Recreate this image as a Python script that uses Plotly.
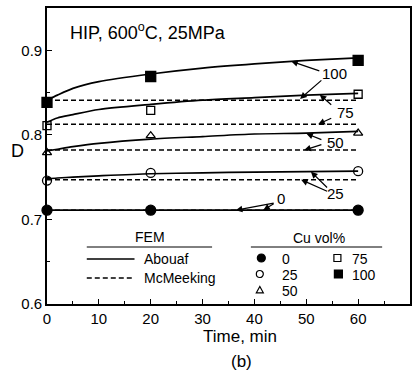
import plotly.graph_objects as go

# ---------------- data ----------------
cu_labels = ["0", "25", "50", "75", "100"]

# FEM, Abouaf model (solid curves)
curve_time = [0, 2, 5, 10, 20, 30, 40, 50, 60]
abouaf_0 = [0.711, 0.711, 0.711, 0.711, 0.711, 0.711, 0.711, 0.711, 0.711]
abouaf_25 = [0.748, 0.749, 0.750, 0.7515, 0.754, 0.755, 0.756, 0.7565, 0.757]
abouaf_50 = [0.781, 0.783, 0.786, 0.790, 0.795, 0.798, 0.801, 0.802, 0.804]
abouaf_75 = [0.815, 0.820, 0.824, 0.830, 0.836, 0.841, 0.844, 0.847, 0.849]
abouaf_100 = [0.841, 0.847, 0.855, 0.863, 0.872, 0.879, 0.884, 0.888, 0.891]

# FEM, McMeeking model (dashed, constant)
mcm_time = [0, 60]
mcmeeking_0 = [0.711, 0.711]
mcmeeking_25 = [0.747, 0.747]
mcmeeking_50 = [0.782, 0.782]
mcmeeking_75 = [0.8125, 0.8125]
mcmeeking_100 = [0.841, 0.841]

# experiments
exp_time = [0, 20, 60]
exp_0 = [0.711, 0.711, 0.711]
exp_25 = [0.746, 0.755, 0.757]
exp_50 = [0.779, 0.799, 0.802]
exp_75 = [0.811, 0.829, 0.848]
exp_100 = [0.8385, 0.869, 0.888]

x_ticks = [0, 10, 20, 30, 40, 50, 60, 70]
y_ticks = [0.6, 0.7, 0.8, 0.9]
y_ticktext = ["0.6", "0.7", "0.8", "0.9"]

FONT = "Liberation Sans, Arial, Helvetica, sans-serif"

abouaf = [abouaf_0, abouaf_25, abouaf_50, abouaf_75, abouaf_100]
mcmeeking = [mcmeeking_0, mcmeeking_25, mcmeeking_50, mcmeeking_75, mcmeeking_100]
exps = [exp_0, exp_25, exp_50, exp_75, exp_100]
symbols = ["circle", "circle-open", "triangle-up-open", "square-open", "square"]
msizes = [10, 9, 8, 8, 10]

fig = go.Figure()

for lab, ys in zip(cu_labels, mcmeeking):
    fig.add_trace(go.Scatter(x=mcm_time, y=ys, mode="lines", name="McMeeking " + lab,
                             line=dict(color="black", width=1.5, dash="5px,3px"),
                             showlegend=False, hoverinfo="skip"))
for lab, ys in zip(cu_labels, abouaf):
    fig.add_trace(go.Scatter(x=curve_time, y=ys, mode="lines", name="Abouaf " + lab,
                             line=dict(color="black", width=1.7, shape="spline", smoothing=0.8),
                             showlegend=False, hoverinfo="skip"))
for lab, ys, sym, ms in zip(cu_labels, exps, symbols, msizes):
    fig.add_trace(go.Scatter(x=exp_time, y=ys, mode="markers", name=lab,
                             marker=dict(symbol=sym, size=ms, color="black",
                                         line=dict(color="black", width=1.3)),
                             cliponaxis=False, showlegend=False))

# ---------------- layout helpers ----------------
L, R, T, B = 47, 412, 8, 304
def PX(px):
    return (px - L) / (R - L)
def PY(py):
    return (B - py) / (B - T)

ann = []
shapes = []

def text(px, py, s, size=14, xanchor="center"):
    ann.append(dict(x=PX(px), y=PY(py), xref="paper", yref="paper", text=s,
                    showarrow=False, xanchor=xanchor, yanchor="middle",
                    font=dict(family=FONT, size=size, color="black")))

# title and axis labels
text(68, 32, "HIP, 600<sup>o</sup>C, 25MPa", size=18, xanchor="left")
text(17, 151, "D", size=18)
text(241, 336, "Time, min", size=17)
text(243, 361, "(b)", size=17)

# arrow labels and arrows (data coordinates)
arrow_labels = [
    ("100", 55.5, 0.873, [((52.8, 0.875), (47.1, 0.887)), ((53.2, 0.866), (48.8, 0.8425))]),
    ("75", 57.6, 0.827, [((55.1, 0.834), (52.6, 0.8475)), ((55.1, 0.8205), (52.3, 0.8125))]),
    ("50", 55.7, 0.791, [((53.2, 0.7937), (50.0, 0.8015)), ((53.2, 0.789), (49.6, 0.782))]),
    ("25", 55.7, 0.731, [((54.3, 0.736), (50.9, 0.7565)), ((54.3, 0.7325), (49.0, 0.747))]),
    ("0", 45.2, 0.725, [((44.0, 0.7195), (36.4, 0.711)), ((44.0, 0.7195), (41.7, 0.711))]),
]
for lab, lx, ly, arrows in arrow_labels:
    ann.append(dict(x=lx, y=ly, xref="x", yref="y", text=lab, showarrow=False,
                    font=dict(family=FONT, size=15, color="black")))
    for (tx, ty), (hx, hy) in arrows:
        ann.append(dict(x=hx, y=hy, xref="x", yref="y", ax=tx, ay=ty,
                        axref="x", ayref="y", text="", showarrow=True,
                        arrowhead=2, arrowsize=1.1, arrowwidth=1.2,
                        arrowcolor="black", standoff=0, startstandoff=0))

# ---------------- custom legend ----------------
def hline(x0, x1, py, dash=None, width=1.3):
    shapes.append(dict(type="line", xref="paper", yref="paper",
                       x0=PX(x0), x1=PX(x1), y0=PY(py), y1=PY(py),
                       line=dict(color="black", width=width, dash=dash)))

text(151, 237, "FEM", size=14)
hline(87, 213, 247, width=1.0)
hline(87, 135, 259, width=1.7)
text(143, 259, "Abouaf", size=14, xanchor="left")
hline(87, 135, 278, dash="5px,3px", width=1.5)
text(143, 278, "McMeeking", size=14, xanchor="left")

text(320, 238, "Cu vol%", size=14)
hline(252, 384, 247, width=1.0)

def key(px, py, kind, d, filled):
    base = dict(xref="paper", yref="paper", xsizemode="pixel", ysizemode="pixel",
                xanchor=PX(px), yanchor=PY(py),
                line=dict(color="black", width=1.2),
                fillcolor="black" if filled else "rgba(0,0,0,0)")
    h = d / 2
    if kind == "circle":
        base.update(type="circle", x0=-h, x1=h, y0=-h, y1=h)
    elif kind == "square":
        base.update(type="rect", x0=-h, x1=h, y0=-h, y1=h)
    else:
        base.update(type="path", path=f"M{-h},{-h*0.8} L{h},{-h*0.8} L0,{h} Z")
    shapes.append(base)

key(262.5, 258, "circle", 8, True)
key(261, 274, "circle", 7, False)
key(261, 290, "tri", 7, False)
key(339, 258, "square", 7, False)
key(340, 274, "square", 8, True)
for lab, px, py in [("0", 281, 259), ("25", 281, 275), ("50", 281, 291),
                    ("75", 352, 259), ("100", 352, 275)]:
    text(px, py, lab, size=14, xanchor="left")

axis_common = dict(showline=True, linecolor="black", linewidth=1.6, mirror=True,
                   ticks="inside", ticklen=5, tickwidth=1.2, tickcolor="black",
                   showgrid=False, zeroline=False,
                   tickfont=dict(family=FONT, size=15, color="black"))

fig.update_layout(
    width=417, height=371, autosize=False,
    margin=dict(l=L, r=417 - R, t=T, b=371 - B),
    paper_bgcolor="white", plot_bgcolor="white",
    showlegend=False,
    xaxis=dict(range=[0, 70], tickvals=x_ticks, **axis_common,
               minor=dict(ticks="inside", ticklen=3, tickwidth=1, dtick=5, tick0=0,
                          tickcolor="black", showgrid=False)),
    yaxis=dict(range=[0.6, 0.95], tickvals=y_ticks, ticktext=y_ticktext, **axis_common,
               minor=dict(ticks="inside", ticklen=3, tickwidth=1, dtick=0.05, tick0=0.6,
                          tickcolor="black", showgrid=False)),
    annotations=ann,
    shapes=shapes,
)

fig.write_html("out.html")
